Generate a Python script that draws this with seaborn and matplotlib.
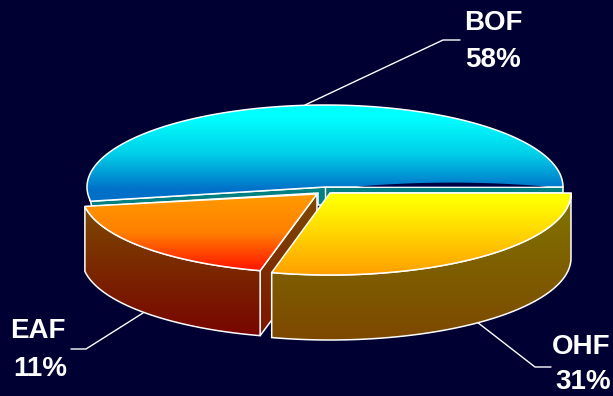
import numpy as np
import seaborn as sns
import matplotlib
matplotlib.use("Agg")
import matplotlib.pyplot as plt
from matplotlib.patches import Polygon

# ---- data ----
categories = ["BOF", "OHF", "EAF"]
share_labels = [58, 31, 11]
# angular spans of the slices as actually drawn (degrees, clockwise from 3 o'clock)
span_ohf = 104
span_eaf = 67
span_bof = 189

# ---- layout ----
W, H = 613, 396
BG = "#000033"
DEPTH = 65
BOF_C, BOF_R = (325, 187), (238, 82)
OHF_C, OHF_R = (330, 193), (241, 82)
EAF_C, EAF_R = (317, 194), (235, 79)

sns.set_style("white")
plt.rcParams["font.family"] = ["Liberation Sans", "DejaVu Sans"]

fig = plt.figure(figsize=(W / 100, H / 100), dpi=100, facecolor=BG)
ax = fig.add_axes([0, 0, 1, 1])
ax.set_facecolor(BG)
ax.axis("off")


def arc(center, radii, a0, a1, n=120):
    t = np.radians(np.linspace(a0, a1, n))
    return np.column_stack([center[0] + radii[0] * np.cos(t),
                            center[1] + radii[1] * np.sin(t)])


def gradient_poly(points, colors, y0, y1, z, lw=1.1):
    """Polygon filled by a vertical gradient, with a white outline."""
    cmap = sns.blend_palette(colors, as_cmap=True)
    pts = np.asarray(points)
    xa, xb, ya, yb = pts[:, 0].min(), pts[:, 0].max(), pts[:, 1].min(), pts[:, 1].max()
    ys = np.linspace(ya, yb, 256)
    g = np.clip((ys - y0) / (y1 - y0), 0, 1)[:, None]
    clip = Polygon(pts, closed=True, transform=ax.transData, fc="none", ec="none")
    ax.add_patch(clip)
    im = ax.imshow(g, cmap=cmap, vmin=0, vmax=1, extent=(xa, xb, yb, ya),
                   aspect="auto", interpolation="bilinear", zorder=z)
    im.set_clip_path(clip)
    ax.add_patch(Polygon(pts, closed=True, fc="none", ec="white", lw=lw, zorder=z + 0.1))


def flat_poly(points, color, z, lw=1.1, ec="white"):
    ax.add_patch(Polygon(np.asarray(points), closed=True, fc=color, ec=ec, lw=lw, zorder=z))


# slice angles derive from the spans
ohf_a0, ohf_a1 = 0, span_ohf
eaf_a0, eaf_a1 = span_ohf, span_ohf + span_eaf
bof_a0, bof_a1 = span_ohf + span_eaf, span_ohf + span_eaf + span_bof

# ---- BOF (back slice) ----
bof_arc = arc(BOF_C, BOF_R, bof_a0 - 1, bof_a1)
bof_start = bof_arc[0]
flat_poly([bof_start, BOF_C, (BOF_C[0] + BOF_R[0], BOF_C[1]),
           (BOF_C[0] + BOF_R[0], BOF_C[1] + 6), (BOF_C[0] + 7, BOF_C[1] + 6),
           (BOF_C[0], BOF_C[1] + 18), (BOF_C[0] - 7, BOF_C[1] + 18), (BOF_C[0] - 7, BOF_C[1] + 6),
           (bof_start[0] + 1, bof_start[1] + 5), (bof_start[0] - 3, bof_start[1] - 14)],
          "#008080", 2)
ax.plot([BOF_C[0], BOF_C[0]], [BOF_C[1], BOF_C[1] + 18], color="white", lw=1.0, zorder=2.1)
gradient_poly(np.vstack([bof_arc, [BOF_C]]),
              ["#00ffff", "#00d0e8", "#0070c8"], 118, 190, 3)
# dark sliver along the lower right edge of the BOF top
u = np.linspace(-1, 1, 60)
sliver_x = 452 + 95 * u
ax.add_patch(Polygon(np.column_stack([sliver_x, BOF_C[1] - 0.4 - 4 * (1 - u ** 2)]),
                     closed=True, fc="#000044", ec="none", zorder=3.2))

# ---- EAF (left front slice) ----
eaf_arc = arc(EAF_C, EAF_R, eaf_a0, eaf_a1)
inner = eaf_arc[0]
gradient_poly([EAF_C, inner, inner + (0, DEPTH), (EAF_C[0], EAF_C[1] + DEPTH)],
              ["#7d4b00", "#7d1400"], 194, 336, 4)
gradient_poly(np.vstack([eaf_arc, eaf_arc[::-1] + (0, DEPTH)]),
              ["#7d4800", "#780500"], 207, 336, 5)
gradient_poly(np.vstack([[EAF_C], eaf_arc]),
              ["#ff9a00", "#ff8000", "#ff1400"], 194, 270, 6)

# ---- OHF (right front slice) ----
ohf_arc = arc(OHF_C, OHF_R, ohf_a0, ohf_a1)
gradient_poly(np.vstack([ohf_arc, ohf_arc[::-1] + (0, DEPTH)]),
              ["#807600", "#7d4800"], 193, 340, 7)
gradient_poly(np.vstack([[OHF_C], ohf_arc]),
              ["#ffff00", "#ffd000", "#ffa000"], 200, 274, 8)

# ---- leader lines ----
leaders = [[(305, 105), (443, 40), (460, 40)],
           [(477, 322), (535, 367), (551, 367)],
           [(143, 313), (86, 349), (71, 349)]]
for pts in leaders:
    xs, ys = zip(*pts)
    ax.plot(xs, ys, color="white", lw=1.0, zorder=1)
ax.set_xlim(0, W)
ax.set_ylim(H, 0)

# ---- labels ----
label_pos = [((493, 23), (493, 60)), ((581, 347), (583, 382)), ((38, 331), (40, 369))]
for name, pct, (p1, p2) in zip(categories, share_labels, label_pos):
    ax.text(*p1, name, color="white", fontsize=20, fontweight="bold", ha="center", va="center")
    ax.text(*p2, f"{pct}%", color="white", fontsize=20, fontweight="bold", ha="center", va="center")

fig.savefig("out.png", dpi=100, facecolor=BG)
